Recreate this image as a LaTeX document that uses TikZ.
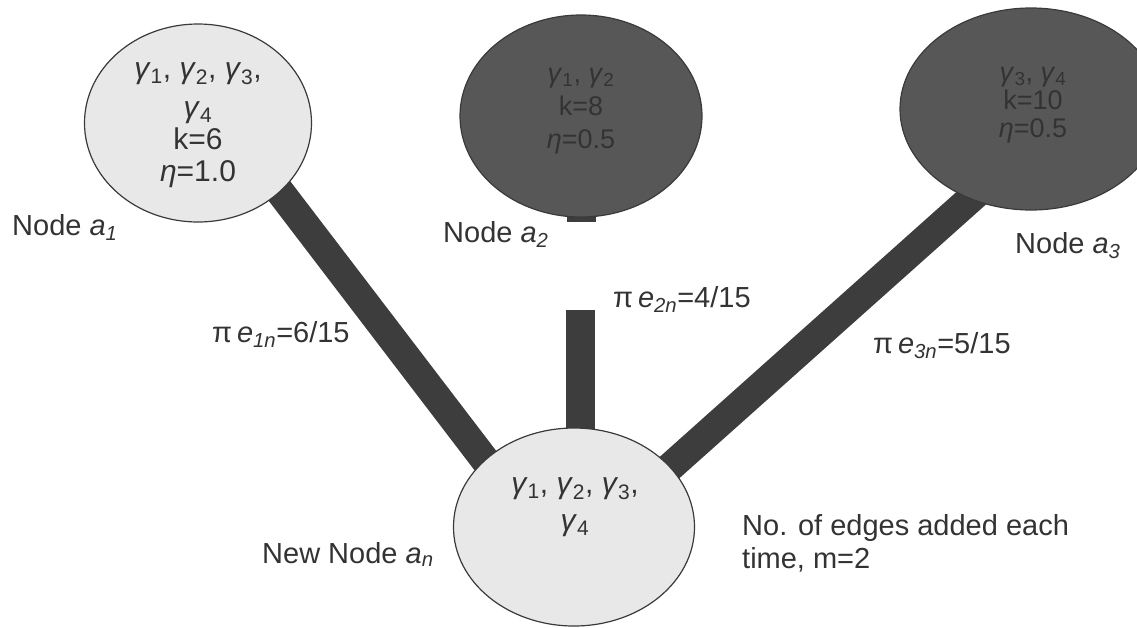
\documentclass[tikz,border=0pt]{standalone}
\usepackage{fontspec}
\setmainfont{Liberation Sans}
\usetikzlibrary{shapes.geometric,backgrounds}
\definecolor{lightfill}{HTML}{E8E8E8}
\definecolor{darkfill}{HTML}{575757}
\definecolor{barcol}{HTML}{3D3D3D}
\definecolor{txtcol}{HTML}{333333}
\definecolor{outl}{HTML}{3A3A3A}
\newcommand{\gam}[1]{\textit{γ}\textsubscript{#1}}
\begin{document}
\begin{tikzpicture}[x=1pt,y=-1pt,
  ell/.style={ellipse, draw=outl, line width=1.2pt, inner sep=0pt},
  lightell/.style={ell, fill=lightfill},
  darkell/.style={ell, fill=darkfill},
  bar/.style={draw=barcol, line width=29pt, line cap=butt},
  lbl/.style={inner sep=0pt, text=txtcol, font=\fontsize{29}{33}\selectfont, anchor=base west},
  intxt/.style={inner sep=0pt, text=txtcol, anchor=base},
]
\useasboundingbox (0,0) rectangle (1137,627);
% ellipses
\node[lightell, minimum width=227pt, minimum height=198pt] (a1) at (198,123) {};
\node[darkell, minimum width=242pt, minimum height=202pt] (a2) at (581,116) {};
\node[darkell, minimum width=262pt, minimum height=202pt] (a3) at (1031,109) {};
\node[lightell, minimum width=241pt, minimum height=198pt] (an) at (574,527) {};
% connectors
\begin{scope}[on background layer]
  \draw[bar, shorten <=-14pt, shorten >=-14pt] (a1.-40) -- (an.143);
  \draw[bar, shorten <=-14pt, shorten >=-14pt] (a3.-124) -- (an.32);
  \coordinate (stub) at (581,222);
  \draw[bar] (a2.center) -- (stub);
  \coordinate (e2top) at (580,310);
  \draw[bar] (e2top) -- (e2top |- an.center);
\end{scope}
% texts inside ellipses
\node[intxt, font=\fontsize{30}{32}\selectfont] (a1t) at (198,78)
  {\begin{tabular}[t]{@{}c@{}}\gam{1}, \gam{2}, \gam{3},\\[7pt] \gam{4}\\ k=6\\ \textit{η}=1.0\end{tabular}};
\node[intxt, font=\fontsize{27}{33}\selectfont] (a2t) at (581,82)
  {\begin{tabular}[t]{@{}c@{}}\gam{1}, \gam{2}\\ k=8\\ \textit{η}=0.5\end{tabular}};
\node[intxt, font=\fontsize{27}{28}\selectfont] (a3t) at (1033,81)
  {\begin{tabular}[t]{@{}c@{}}\gam{3}, \gam{4}\\ k=10\\ \textit{η}=0.5\end{tabular}};
\node[intxt, font=\fontsize{30}{32}\selectfont] (ant) at (575,493)
  {\begin{tabular}[t]{@{}c@{}}\gam{1}, \gam{2}, \gam{3},\\[5pt] \gam{4}\end{tabular}};
% labels
\node[lbl] (la1) at (12,235) {Node \textit{a}\textsubscript{\textit{1}}};
\node[lbl] (la2) at (443,242) {Node \textit{a}\textsubscript{\textit{2}}};
\node[lbl] (la3) at (1015,253) {Node \textit{a}\textsubscript{\textit{3}}};
\node[lbl] (lan) at (262,563) {New Node \textit{a}\textsubscript{\textit{n}}};
\node[lbl] (e1) at (212,342) {π\,\textit{e}\textsubscript{\textit{1n}}=6/15};
\node[lbl] (e2) at (613,307) {π\,\textit{e}\textsubscript{\textit{2n}}=4/15};
\node[lbl] (e3) at (873,353) {π\,\textit{e}\textsubscript{\textit{3n}}=5/15};
\node[lbl] (note) at (742,535)
  {\begin{tabular}[t]{@{}l@{}}No. of edges added each\\ time, m=2\end{tabular}};
\end{tikzpicture}
\end{document}
